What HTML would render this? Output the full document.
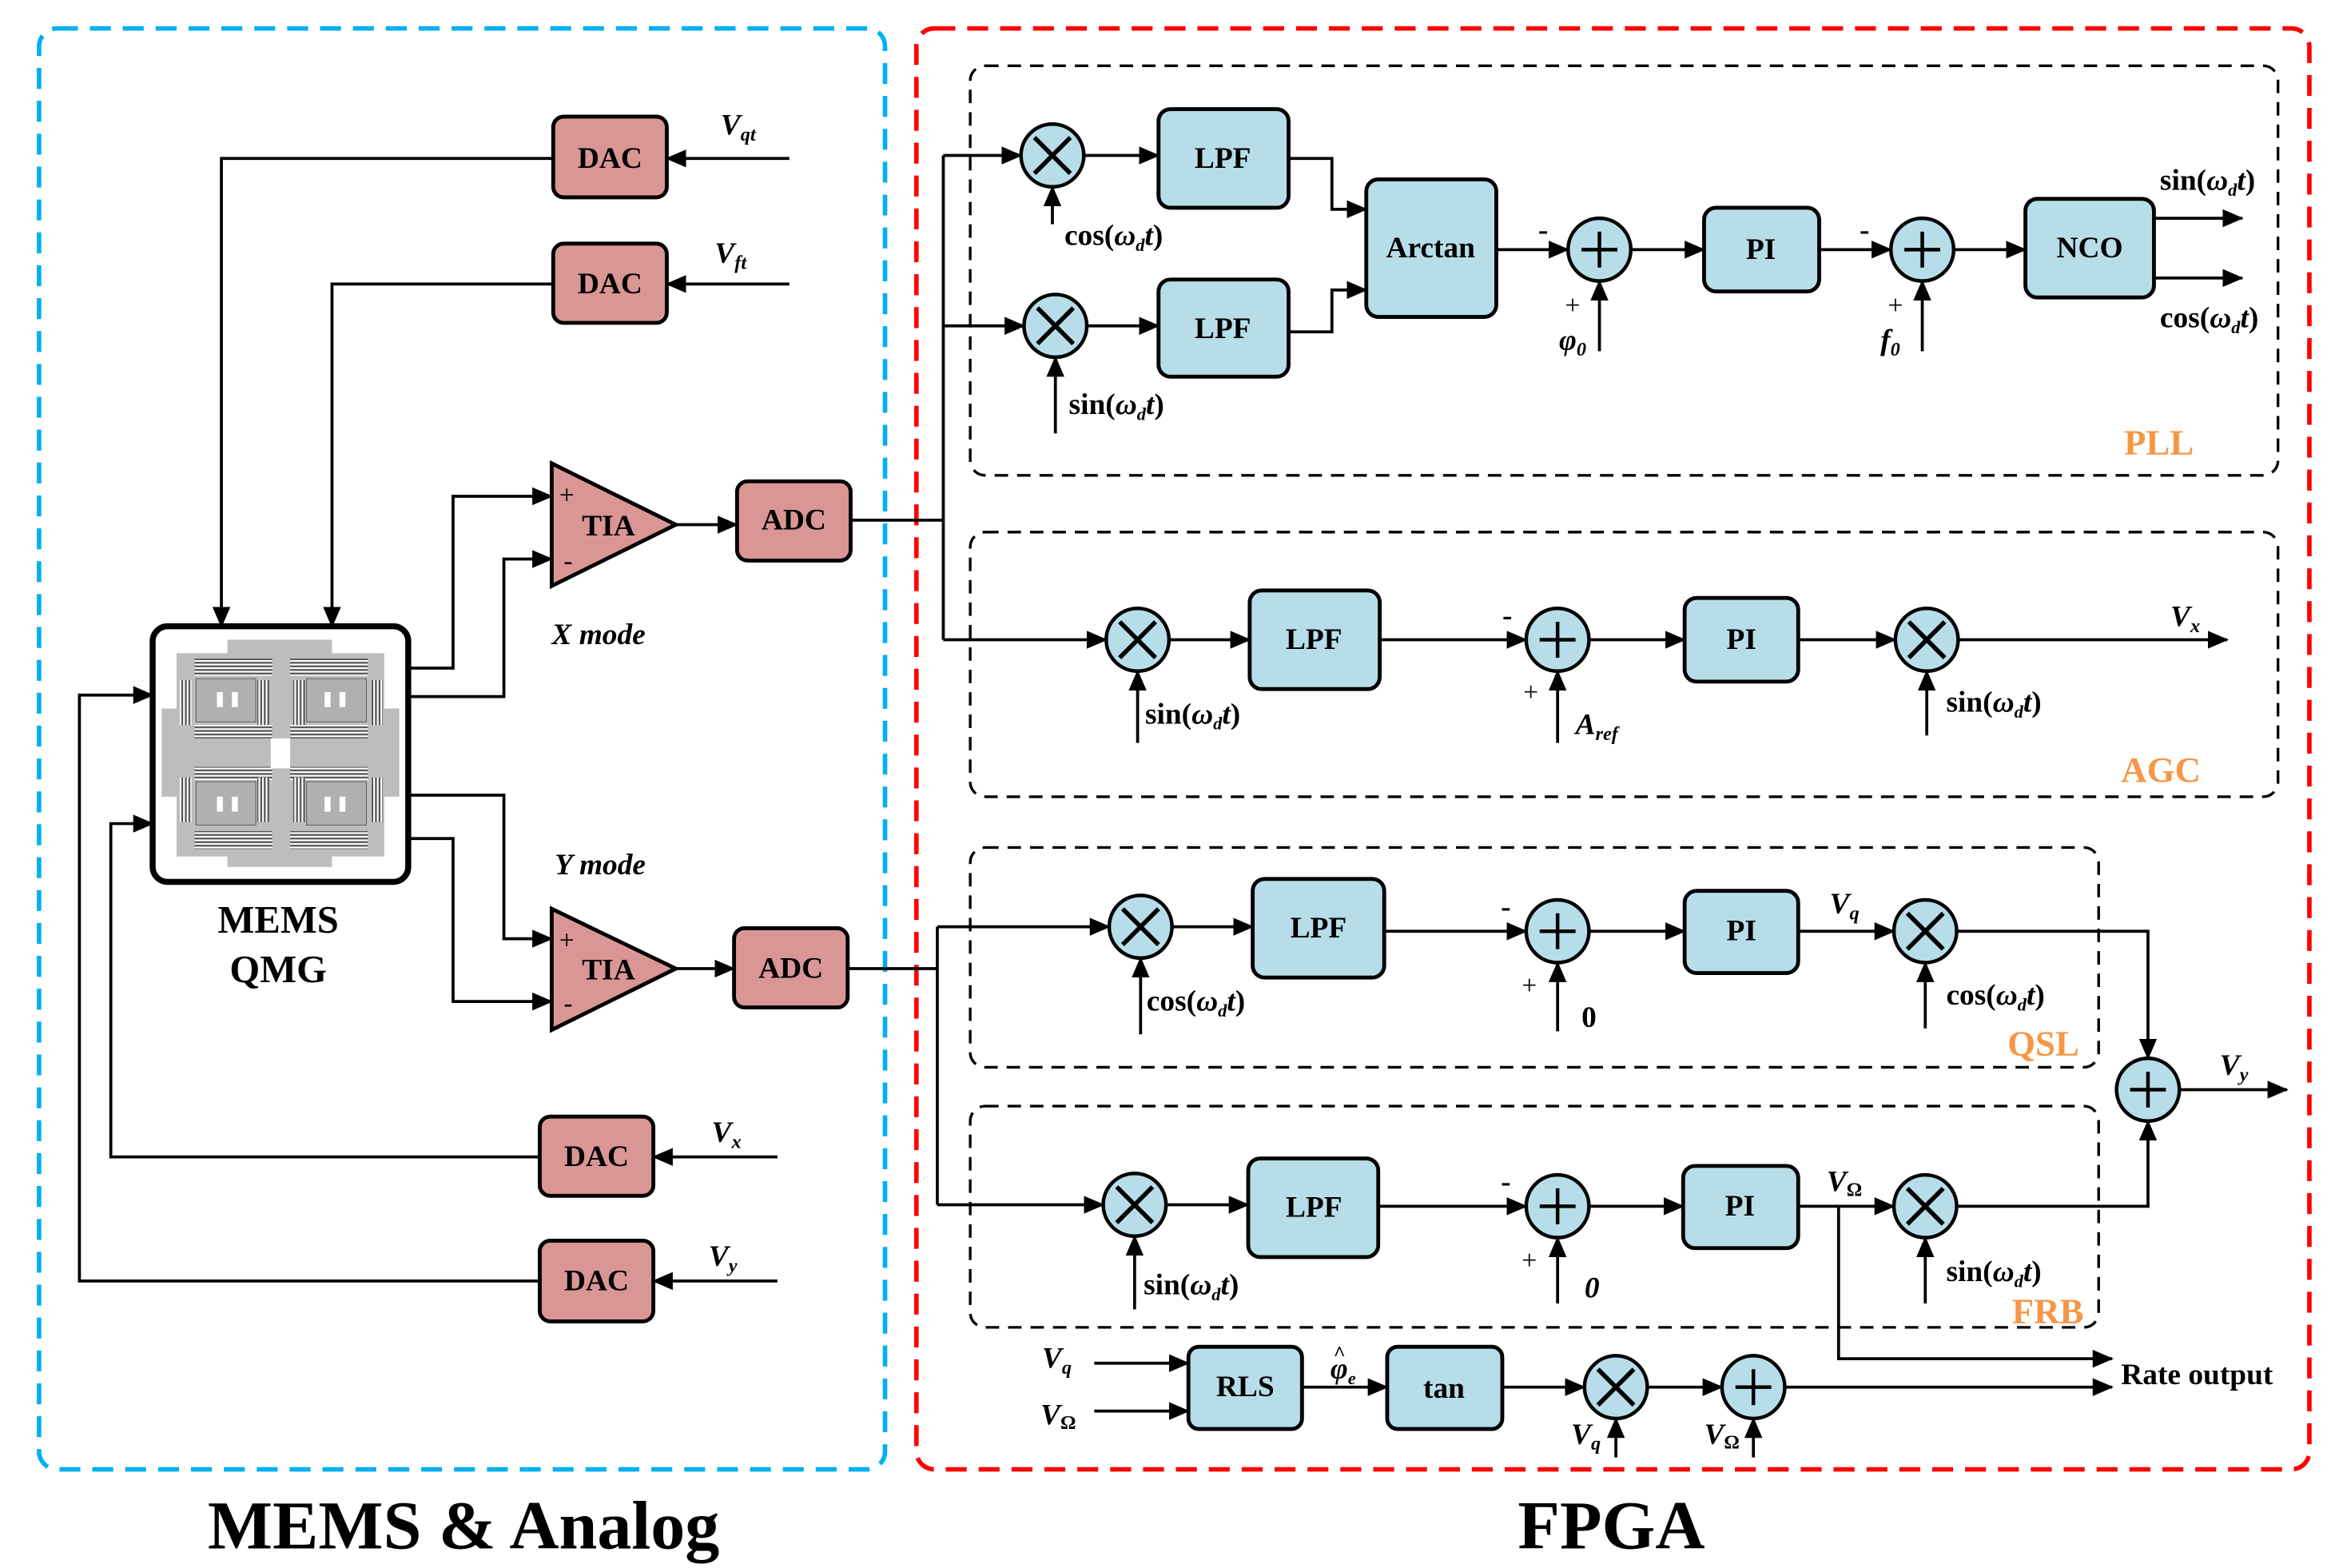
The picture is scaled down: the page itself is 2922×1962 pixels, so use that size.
<!DOCTYPE html>
<html><head><meta charset="utf-8"><style>
html,body{margin:0;padding:0;background:#fff}
svg{display:block}
text{font-family:"Liberation Serif",serif;font-weight:bold;fill:#000}
.b{fill:#b7dde8;stroke:#000;stroke-width:2.6}
.d{fill:#d99694;stroke:#000;stroke-width:2.6}
.l{fill:none;stroke:#000;stroke-width:2}
.c{fill:#b7dde8;stroke:#000;stroke-width:2.4}
.bt{font-size:20px;text-anchor:middle;dominant-baseline:central}
.lb{font-size:20px}
.it{font-style:italic}
.or{fill:#f79646;font-size:24px}
.pl{font-size:18px;font-weight:normal}
.dash{fill:none;stroke:#000;stroke-width:1.8;stroke-dasharray:9,6}
</style></head><body>
<svg width="2922" height="1962" viewBox="0 0 1562 1049" xmlns="http://www.w3.org/2000/svg">
<defs>
<marker id="a" markerUnits="userSpaceOnUse" markerWidth="14" markerHeight="12" refX="13" refY="6" orient="auto"><path d="M0,0 L14,6 L0,12 z" fill="#000"/></marker>
<g id="mx"><circle r="21" class="c"/><path d="M-12,-12 L12,12 M12,-12 L-12,12" stroke="#000" stroke-width="3"/></g>
<g id="sm"><circle r="21" class="c"/><path d="M-12,0 L12,0 M0,-12 L0,12" stroke="#000" stroke-width="2.4"/></g>
<pattern id="hs" width="4" height="2.4" patternUnits="userSpaceOnUse"><rect width="4" height="1.2" fill="#fff"/><rect y="1.2" width="4" height="1.2" fill="#555"/></pattern>
<pattern id="vs" width="2.4" height="4" patternUnits="userSpaceOnUse"><rect width="1.2" height="4" fill="#fff"/><rect x="1.2" width="1.2" height="4" fill="#555"/></pattern>
</defs>
<rect x="26" y="19" width="566" height="964" rx="12" fill="none" stroke="#00b0f0" stroke-width="3" stroke-dasharray="14,8"/>
<rect x="613" y="19" width="932" height="964" rx="12" fill="none" stroke="#ff0000" stroke-width="3" stroke-dasharray="14,8"/>
<rect x="649" y="44" width="875" height="274" rx="10" class="dash"/>
<rect x="649" y="356" width="875" height="177" rx="10" class="dash"/>
<rect x="649" y="567" width="755" height="147" rx="10" class="dash"/>
<rect x="649" y="740" width="755" height="148" rx="10" class="dash"/>

<!-- MEMS -->
<rect x="102" y="419" width="171" height="171" rx="10" fill="#fff" stroke="#000" stroke-width="4"/>
<rect x="152" y="428" width="70" height="152" fill="#bdbdbd"/>
<rect x="108" y="474" width="159" height="59" fill="#bdbdbd"/>
<rect x="118" y="437" width="139" height="136" fill="#bdbdbd"/>
<g fill="url(#hs)">
<rect x="130" y="440" width="52" height="12"/><rect x="194" y="440" width="52" height="12"/>
<rect x="130" y="556" width="52" height="12"/><rect x="194" y="556" width="52" height="12"/>
<rect x="130" y="485" width="52" height="9"/><rect x="194" y="485" width="52" height="9"/>
<rect x="130" y="513" width="52" height="9"/><rect x="194" y="513" width="52" height="9"/></g>
<g fill="url(#vs)">
<rect x="120" y="455" width="8" height="30"/><rect x="120" y="520" width="8" height="30"/>
<rect x="248" y="455" width="8" height="30"/><rect x="248" y="520" width="8" height="30"/>
<rect x="172" y="455" width="8" height="30"/><rect x="196" y="455" width="8" height="30"/>
<rect x="172" y="520" width="8" height="30"/><rect x="196" y="520" width="8" height="30"/></g>
<g fill="#b0b0b0" stroke="#666" stroke-width="0.6">
<rect x="131" y="454" width="40" height="29"/><rect x="205" y="454" width="40" height="29"/>
<rect x="131" y="523" width="40" height="29"/><rect x="205" y="523" width="40" height="29"/></g>
<g fill="#fff"><rect x="181" y="494" width="13" height="20"/>
<rect x="145" y="463" width="4" height="10"/><rect x="155" y="463" width="4" height="10"/>
<rect x="217" y="463" width="4" height="10"/><rect x="227" y="463" width="4" height="10"/>
<rect x="145" y="533" width="4" height="10"/><rect x="155" y="533" width="4" height="10"/>
<rect x="217" y="533" width="4" height="10"/><rect x="227" y="533" width="4" height="10"/></g>
<text x="186" y="624" font-size="26" text-anchor="middle">MEMS</text>
<text x="186" y="657" font-size="26" text-anchor="middle">QMG</text>

<!-- DACs -->
<rect x="370" y="78" width="76" height="54" rx="7" class="d"/><text x="408" y="106" class="bt">DAC</text>
<rect x="370" y="163" width="76" height="53" rx="7" class="d"/><text x="408" y="190" class="bt">DAC</text>
<rect x="361" y="747" width="76" height="53" rx="7" class="d"/><text x="399" y="774" class="bt">DAC</text>
<rect x="361" y="830" width="76" height="54" rx="7" class="d"/><text x="399" y="857" class="bt">DAC</text>
<path class="l" d="M528,106 L446,106" marker-end="url(#a)"/>
<path class="l" d="M528,190 L446,190" marker-end="url(#a)"/>
<path class="l" d="M520,774 L437,774" marker-end="url(#a)"/>
<path class="l" d="M520,857 L437,857" marker-end="url(#a)"/>
<text x="482" y="90" class="lb it">V<tspan font-size="13" dy="4">qt</tspan></text>
<text x="478" y="176" class="lb it">V<tspan font-size="13" dy="4">ft</tspan></text>
<text x="476" y="764" class="lb it">V<tspan font-size="13" dy="4">x</tspan></text>
<text x="474" y="847" class="lb it">V<tspan font-size="13" dy="4">y</tspan></text>
<path class="l" d="M370,106 L148,106 L148,419" marker-end="url(#a)"/>
<path class="l" d="M370,190 L222,190 L222,419" marker-end="url(#a)"/>
<path class="l" d="M361,774 L74,774 L74,551 L102,551" marker-end="url(#a)"/>
<path class="l" d="M361,857 L53,857 L53,465 L102,465" marker-end="url(#a)"/>

<!-- TIA -->
<path d="M369,310 L369,392 L452,351 z" class="d"/>
<text x="407" y="352" class="bt">TIA</text>
<text x="374" y="337" class="pl">+</text><text x="377" y="381" class="pl">-</text>
<path d="M369,608 L369,689 L452,648 z" class="d"/>
<text x="407" y="649" class="bt">TIA</text>
<text x="374" y="635" class="pl">+</text><text x="377" y="677" class="pl">-</text>
<path class="l" d="M273,447 L303,447 L303,332 L369,332" marker-end="url(#a)"/>
<path class="l" d="M273,466 L337,466 L337,374 L369,374" marker-end="url(#a)"/>
<path class="l" d="M273,532 L337,532 L337,628 L369,628" marker-end="url(#a)"/>
<path class="l" d="M273,561 L303,561 L303,670 L369,670" marker-end="url(#a)"/>
<text x="369" y="431" font-size="20" class="it">X mode</text>
<text x="371" y="585" font-size="20" class="it">Y mode</text>
<rect x="493" y="322" width="76" height="53" rx="7" class="d"/><text x="531" y="348" class="bt">ADC</text>
<rect x="491" y="621" width="76" height="53" rx="7" class="d"/><text x="529" y="648" class="bt">ADC</text>
<path class="l" d="M452,351 L493,351" marker-end="url(#a)"/>
<path class="l" d="M452,648 L491,648" marker-end="url(#a)"/>

<!-- FPGA PLL -->
<path class="l" d="M569,348 L631,348 M631,104 L631,428"/>
<path class="l" d="M631,104 L683,104" marker-end="url(#a)"/>
<path class="l" d="M631,218 L685,218" marker-end="url(#a)"/>
<path class="l" d="M631,428 L740,428" marker-end="url(#a)"/>
<use href="#mx" x="704" y="104"/><use href="#mx" x="706" y="218"/>
<path class="l" d="M704,150 L704,125" marker-end="url(#a)"/>
<path class="l" d="M706,290 L706,239" marker-end="url(#a)"/>
<text x="712" y="164" class="lb">cos(<tspan class="it">ω<tspan font-size="12" dy="4">d</tspan><tspan dy="-4">t</tspan></tspan>)</text>
<text x="715" y="277" class="lb">sin(<tspan class="it">ω<tspan font-size="12" dy="4">d</tspan><tspan dy="-4">t</tspan></tspan>)</text>
<rect x="775" y="73" width="87" height="66" rx="8" class="b"/><text x="818" y="106" class="bt">LPF</text>
<rect x="775" y="187" width="87" height="65" rx="8" class="b"/><text x="818" y="220" class="bt">LPF</text>
<path class="l" d="M725,104 L775,104" marker-end="url(#a)"/>
<path class="l" d="M727,218 L775,218" marker-end="url(#a)"/>
<path class="l" d="M862,106 L891,106 L891,140 L914,140" marker-end="url(#a)"/>
<path class="l" d="M862,222 L891,222 L891,194 L914,194" marker-end="url(#a)"/>
<rect x="914" y="120" width="87" height="92" rx="8" class="b"/><text x="957" y="166" class="bt">Arctan</text>
<path class="l" d="M1001,167 L1049,167" marker-end="url(#a)"/>
<use href="#sm" x="1070" y="167"/>
<text x="1029" y="160" class="lb">-</text><text x="1047" y="210" class="pl">+</text>
<text x="1043" y="234" class="lb it" font-weight="normal">φ<tspan font-size="13" dy="4">0</tspan></text>
<path class="l" d="M1070,235 L1070,188" marker-end="url(#a)"/>
<rect x="1140" y="139" width="77" height="56" rx="8" class="b"/><text x="1178" y="167" class="bt">PI</text>
<path class="l" d="M1091,167 L1140,167" marker-end="url(#a)"/>
<path class="l" d="M1217,167 L1265,167" marker-end="url(#a)"/>
<use href="#sm" x="1286" y="167"/>
<text x="1244" y="160" class="lb">-</text><text x="1263" y="210" class="pl">+</text>
<text x="1258" y="234" class="lb it">f<tspan font-size="13" dy="4">0</tspan></text>
<path class="l" d="M1286,235 L1286,188" marker-end="url(#a)"/>
<path class="l" d="M1307,167 L1355,167" marker-end="url(#a)"/>
<rect x="1355" y="133" width="86" height="66" rx="8" class="b"/><text x="1398" y="166" class="bt">NCO</text>
<path class="l" d="M1441,146 L1500,146" marker-end="url(#a)"/>
<path class="l" d="M1441,186 L1500,186" marker-end="url(#a)"/>
<text x="1445" y="127" class="lb">sin(<tspan class="it">ω<tspan font-size="12" dy="4">d</tspan><tspan dy="-4">t</tspan></tspan>)</text>
<text x="1445" y="219" class="lb">cos(<tspan class="it">ω<tspan font-size="12" dy="4">d</tspan><tspan dy="-4">t</tspan></tspan>)</text>
<text x="1421" y="304" class="or">PLL</text>

<!-- AGC -->
<use href="#mx" x="761" y="428"/>
<path class="l" d="M761,497 L761,449" marker-end="url(#a)"/>
<text x="766" y="484" class="lb">sin(<tspan class="it">ω<tspan font-size="12" dy="4">d</tspan><tspan dy="-4">t</tspan></tspan>)</text>
<path class="l" d="M782,428 L836,428" marker-end="url(#a)"/>
<rect x="836" y="395" width="87" height="66" rx="8" class="b"/><text x="879" y="428" class="bt">LPF</text>
<path class="l" d="M923,428 L1021,428" marker-end="url(#a)"/>
<use href="#sm" x="1042" y="428"/>
<text x="1005" y="418" class="lb">-</text><text x="1019" y="469" class="pl">+</text>
<text x="1054" y="491" class="lb it">A<tspan font-size="13" dy="4">ref</tspan></text>
<path class="l" d="M1042,497 L1042,449" marker-end="url(#a)"/>
<path class="l" d="M1063,428 L1127,428" marker-end="url(#a)"/>
<rect x="1127" y="400" width="76" height="56" rx="8" class="b"/><text x="1165" y="428" class="bt">PI</text>
<path class="l" d="M1203,428 L1268,428" marker-end="url(#a)"/>
<use href="#mx" x="1289" y="428"/>
<path class="l" d="M1289,492 L1289,449" marker-end="url(#a)"/>
<text x="1302" y="476" class="lb">sin(<tspan class="it">ω<tspan font-size="12" dy="4">d</tspan><tspan dy="-4">t</tspan></tspan>)</text>
<path class="l" d="M1310,428 L1490,428" marker-end="url(#a)"/>
<text x="1452" y="419" class="lb it">V<tspan font-size="13" dy="4">x</tspan></text>
<text x="1419" y="523" class="or">AGC</text>

<!-- QSL -->
<path class="l" d="M567,648 L627,648 M627,620 L627,806"/>
<path class="l" d="M627,620 L742,620" marker-end="url(#a)"/>
<path class="l" d="M627,806 L738,806" marker-end="url(#a)"/>
<use href="#mx" x="763" y="620"/>
<path class="l" d="M763,692 L763,641" marker-end="url(#a)"/>
<text x="767" y="676" class="lb">cos(<tspan class="it">ω<tspan font-size="12" dy="4">d</tspan><tspan dy="-4">t</tspan></tspan>)</text>
<path class="l" d="M784,620 L838,620" marker-end="url(#a)"/>
<rect x="838" y="588" width="88" height="66" rx="8" class="b"/><text x="882" y="621" class="bt">LPF</text>
<path class="l" d="M926,623 L1021,623" marker-end="url(#a)"/>
<use href="#sm" x="1042" y="623"/>
<text x="1004" y="613" class="lb">-</text><text x="1018" y="665" class="pl">+</text>
<text x="1058" y="687" class="lb">0</text>
<path class="l" d="M1042,690 L1042,644" marker-end="url(#a)"/>
<path class="l" d="M1063,623 L1127,623" marker-end="url(#a)"/>
<rect x="1127" y="596" width="76" height="55" rx="8" class="b"/><text x="1165" y="623" class="bt">PI</text>
<path class="l" d="M1203,623 L1267,623" marker-end="url(#a)"/>
<text x="1224" y="611" class="lb it">V<tspan font-size="13" dy="4">q</tspan></text>
<use href="#mx" x="1288" y="623"/>
<path class="l" d="M1288,688 L1288,644" marker-end="url(#a)"/>
<text x="1302" y="672" class="lb">cos(<tspan class="it">ω<tspan font-size="12" dy="4">d</tspan><tspan dy="-4">t</tspan></tspan>)</text>
<path class="l" d="M1309,623 L1437,623 L1437,708" marker-end="url(#a)"/>
<use href="#sm" x="1437" y="729"/>
<path class="l" d="M1458,729 L1530,729" marker-end="url(#a)"/>
<text x="1485" y="719" class="lb it">V<tspan font-size="13" dy="4">y</tspan></text>
<text x="1343" y="706" class="or">QSL</text>

<!-- FRB -->
<use href="#mx" x="759" y="806"/>
<path class="l" d="M759,876 L759,827" marker-end="url(#a)"/>
<text x="765" y="866" class="lb">sin(<tspan class="it">ω<tspan font-size="12" dy="4">d</tspan><tspan dy="-4">t</tspan></tspan>)</text>
<path class="l" d="M780,806 L835,806" marker-end="url(#a)"/>
<rect x="835" y="775" width="87" height="66" rx="8" class="b"/><text x="879" y="808" class="bt">LPF</text>
<path class="l" d="M922,807 L1021,807" marker-end="url(#a)"/>
<use href="#sm" x="1042" y="807"/>
<text x="1004" y="797" class="lb">-</text><text x="1018" y="849" class="pl">+</text>
<text x="1060" y="868" class="lb it">0</text>
<path class="l" d="M1042,872 L1042,828" marker-end="url(#a)"/>
<path class="l" d="M1063,807 L1126,807" marker-end="url(#a)"/>
<rect x="1126" y="780" width="77" height="55" rx="8" class="b"/><text x="1164" y="807" class="bt">PI</text>
<path class="l" d="M1203,807 L1267,807" marker-end="url(#a)"/>
<text x="1222" y="797" class="lb it">V<tspan font-size="13" dy="3" font-style="normal">Ω</tspan></text>
<use href="#mx" x="1288" y="807"/>
<path class="l" d="M1288,872 L1288,828" marker-end="url(#a)"/>
<text x="1302" y="857" class="lb">sin(<tspan class="it">ω<tspan font-size="12" dy="4">d</tspan><tspan dy="-4">t</tspan></tspan>)</text>
<path class="l" d="M1309,807 L1437,807 L1437,750" marker-end="url(#a)"/>
<path class="l" d="M1230,807 L1230,909 L1413,909" marker-end="url(#a)"/>
<text x="1346" y="885" class="or">FRB</text>

<!-- Bottom -->
<text x="697" y="915" class="lb it">V<tspan font-size="13" dy="4">q</tspan></text>
<text x="696" y="953" class="lb it">V<tspan font-size="13" dy="3" font-style="normal">Ω</tspan></text>
<path class="l" d="M732,912 L795,912" marker-end="url(#a)"/>
<path class="l" d="M732,944 L795,944" marker-end="url(#a)"/>
<rect x="795" y="901" width="76" height="55" rx="7" class="b"/><text x="833" y="928" class="bt">RLS</text>
<text x="890" y="922" class="lb it">φ<tspan font-size="12" dy="4">e</tspan></text>
<text x="892" y="910" font-size="14" font-weight="normal">^</text>
<path class="l" d="M871,928 L928,928" marker-end="url(#a)"/>
<rect x="928" y="901" width="77" height="55" rx="7" class="b"/><text x="966" y="929" class="bt">tan</text>
<path class="l" d="M1005,928 L1060,928" marker-end="url(#a)"/>
<use href="#mx" x="1081" y="928"/>
<text x="1051" y="966" class="lb it">V<tspan font-size="13" dy="4">q</tspan></text>
<path class="l" d="M1081,975 L1081,949" marker-end="url(#a)"/>
<path class="l" d="M1102,928 L1152,928" marker-end="url(#a)"/>
<use href="#sm" x="1173" y="928"/>
<text x="1140" y="966" class="lb it">V<tspan font-size="13" dy="3" font-style="normal">Ω</tspan></text>
<path class="l" d="M1173,975 L1173,949" marker-end="url(#a)"/>
<path class="l" d="M1194,928 L1413,928" marker-end="url(#a)"/>
<text x="1419" y="926" class="lb">Rate output</text>

<text x="310" y="1036" font-size="46" text-anchor="middle">MEMS &amp; Analog</text>
<text x="1078" y="1036" font-size="46" text-anchor="middle">FPGA</text>
</svg>
</body></html>
